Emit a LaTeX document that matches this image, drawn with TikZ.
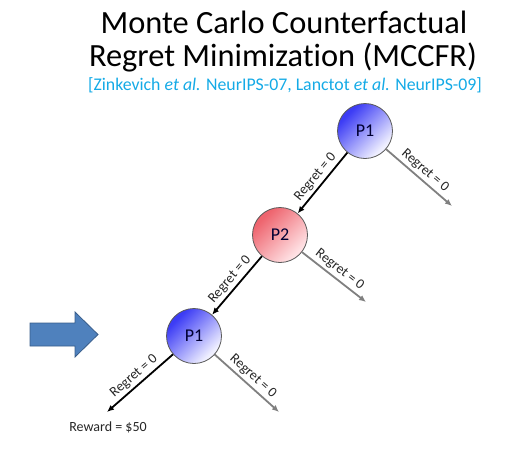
\documentclass[tikz,border=0pt]{standalone}
\usepackage{fontspec}
\setmainfont[Ligatures=NoCommon]{Carlito}
\usetikzlibrary{arrows.meta}
\definecolor{cite}{RGB}{20,170,230}
\definecolor{arrowfill}{RGB}{79,129,189}
\definecolor{arrowline}{RGB}{56,93,138}
\definecolor{edgegray}{RGB}{128,128,128}
\definecolor{bluedark}{RGB}{60,60,245}
\definecolor{bluelight}{RGB}{240,240,255}
\definecolor{reddark}{RGB}{238,100,110}
\definecolor{redlight}{RGB}{255,225,228}
\pgfdeclareverticalshading{pblue}{100bp}{color(0bp)=(bluelight); color(28bp)=(bluelight); color(72bp)=(bluedark); color(100bp)=(bluedark)}
\pgfdeclareverticalshading{pred}{100bp}{color(0bp)=(redlight); color(28bp)=(redlight); color(72bp)=(reddark); color(100bp)=(reddark)}
\tikzset{
  pnode/.style={circle, minimum size=55pt, inner sep=0pt, draw=black!65, line width=0.8pt, font=\fontsize{18}{20}\selectfont, text=black!80!blue},
  pone/.style={pnode, shading=pblue, shading angle=45},
  ptwo/.style={pnode, shading=pred, shading angle=45},
  blackedge/.style={line width=1.8pt, black, -{Latex[length=7pt,width=6pt]}},
  grayedge/.style={line width=1.8pt, edgegray, -{Latex[length=7pt,width=6pt]}},
  rlab/.style={font=\fontsize{14}{15}\selectfont, text=black!85, inner sep=2.5pt},
}
\begin{document}
\begin{tikzpicture}[x=1pt,y=-1pt]
\useasboundingbox (0,0) rectangle (525,469);
\node[anchor=base, font=\fontsize{32.4}{34}\selectfont] (t1) at (284,33) {Monte Carlo Counterfactual};
\node[anchor=base, font=\fontsize{32.4}{34}\selectfont] (t2) at (283,66) {Regret Minimization (MCCFR)};
\node[anchor=base, font=\fontsize{17.8}{19}\selectfont, text=cite] (t3) at (285,90) {[Zinkevich \textit{et al.} NeurIPS-07, Lanctot \textit{et al.} NeurIPS-09]};

\node[pone, shade] (a) at (365,131) {P1};
\node[ptwo, shade] (b) at (280,235) {P2};
\node[pone, shade] (c) at (194,336) {P1};
\coordinate (ar) at (452,206);
\coordinate (br) at (366,302);
\coordinate (cl) at (107,412);
\coordinate (cr) at (279,412);

\draw[blackedge] (a) -- (b) node[midway, sloped, above, rlab] {Regret = 0};
\draw[grayedge] (a) -- (ar) node[midway, sloped, above, rlab] {Regret = 0};
\draw[blackedge] (b) -- (c) node[midway, sloped, above, rlab] {Regret = 0};
\draw[grayedge] (b) -- (br) node[midway, sloped, above, rlab] {Regret = 0};
\draw[blackedge] (c) -- (cl) node[midway, sloped, above, rlab] {Regret = 0};
\draw[grayedge] (c) -- (cr) node[midway, sloped, above, rlab] {Regret = 0};

\node[font=\fontsize{14}{15}\selectfont, text=black!85] (rw) at (108,427) {Reward = \$50};

\draw[fill=arrowfill, draw=arrowline, line width=0.8pt, line join=miter]
  (30,323) -- (75,323) -- (75,312) -- (98,334.5) -- (75,357) -- (75,346) -- (30,346) -- cycle;
\end{tikzpicture}
\end{document}
